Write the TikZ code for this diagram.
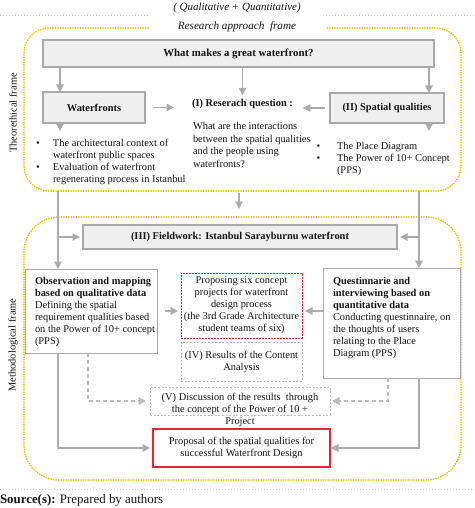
\documentclass[tikz,border=0pt]{standalone}
\usepackage{fontspec}
\setmainfont{Liberation Serif}
\usetikzlibrary{arrows.meta,calc}
\definecolor{ylw}{HTML}{F4C20D}
\definecolor{bgray}{HTML}{A9A9A9}
\definecolor{bfill}{HTML}{EFEFEF}
\definecolor{agray}{HTML}{ABABAB}
\definecolor{dgray}{HTML}{BBBBBB}
\definecolor{lgray}{HTML}{CFCFCF}
\definecolor{rd}{HTML}{E0282E}
\definecolor{txt}{HTML}{141414}
\newcommand{\bodyf}{\fontsize{10.4}{12}\selectfont}
\begin{document}
\begin{tikzpicture}[x=1pt,y=-1pt,
  every node/.style={font=\bodyf, inner sep=0pt, outer sep=0pt, text=txt},
  gbox/.style={draw=bgray, fill=bfill, line width=1.2pt},
  wbox/.style={draw=bgray, fill=white, line width=1pt},
  rdash/.style={draw=rd, line width=1pt, dash pattern=on 1.6pt off 1.4pt},
  rsolid/.style={draw=rd, line width=1.5pt},
  gdot/.style={draw=dgray, line width=0.9pt, dash pattern=on 2pt off 1.6pt},
  arr/.style={draw=agray, line width=1.3pt, -{Triangle[length=7.5pt,width=7.5pt]}},
  darr/.style={draw=dgray, line width=1.2pt, dash pattern=on 4pt off 3pt, -{Triangle[length=7.5pt,width=7.5pt]}},
  ydot/.style={draw=ylw, line width=2pt, line cap=round, dash pattern=on 0pt off 2.5pt},
  gline/.style={draw=lgray, line width=0.8pt, dash pattern=on 1pt off 2pt}
]
\useasboundingbox (0,0) rectangle (474,508);

% top labels
\node[font=\fontsize{11}{13}\selectfont\itshape] (qq) at (237,8) {( Qualitative + Quantitative)};
\draw[gline] (0,15) -- (150,15);
\draw[gline] (323,15) -- (474,15);
\node[font=\fontsize{11.2}{13}\selectfont\itshape] (raf) at (237,27) {Research approach\ \ frame};

% frames
\draw[ydot, rounded corners=25] (148,28) -- (24,28) -- (24,191) -- (461,191) -- (461,28) -- (325,28);
\draw[ydot, rounded corners=35] (24,217) rectangle (461,480);
\node[rotate=90] (thf) at (13,113) {Theorethical frame};
\node[rotate=90] (mef) at (13,345) {Methodological frame};

% theoretical part
\node[gbox, minimum width=391, minimum height=27, font=\fontsize{10.8}{13}\selectfont\bfseries] (wq) at (238.5,53.5) {What makes a great waterfront?};
\node[gbox, minimum width=102, minimum height=31, font=\bodyf\bfseries] (wf) at (94,107.5) {Waterfronts};
\node[gbox, minimum width=114, minimum height=30, font=\bodyf\bfseries] (sq) at (387,108) {(II) Spatial qualities};
\node[font=\bodyf\bfseries, inner sep=4pt] (rq) at (242.5,104) {(I) Reserach question :};
\node[anchor=north west, align=left, font=\fontsize{10.4}{12.6}\selectfont] (rqt) at (193,122.5) {What are the interactions\\between the spatial qualities\\and the people using\\waterfronts?};
\node[anchor=north west, align=left] (lb) at (36,139) {\makebox[17pt][l]{\textbullet}The architectural context of\\\hspace*{17pt}waterfront public spaces\\\makebox[17pt][l]{\textbullet}Evaluation of waterfront\\\hspace*{17pt}regenerating process in Istanbul};
\node[anchor=north west, align=left] (rb) at (316.5,142) {\makebox[20.5pt][l]{\textbullet}The Place Diagram\\\makebox[20.5pt][l]{\textbullet}The Power of 10+ Concept\\\hspace*{20.5pt}(PPS)};

\coordinate (wfd) at (60,131);
\coordinate (sqd) at (429,131);
\draw[arr] ([xshift=17]wq.south west) -- ([xshift=17]wf.north west);
\draw[arr] (rq.north |- wq.south) -- (rq.north);
\draw[arr] ([xshift=-5]wq.south east) -- ([xshift=-15]sq.north east);
\draw[arr, shorten <=8pt, shorten >=14pt] (wf.east) -- (wf.east -| rq.west);
\draw[arr, shorten <=5pt, shorten >=6pt] (sq.west) -- (sq.west -| rq.east);
\draw[arr] ([xshift=17]wf.south west) -- (wfd);
\draw[arr] ([xshift=-15]sq.south east) -- (sqd);

% methodological part
\node[gbox, minimum width=314, minimum height=24, font=\bodyf\bfseries] (fw) at (240,237) {(III) Fieldwork: Istanbul Sarayburnu waterfront};
\node[wbox, minimum width=132, minimum height=84] (obs) at (91,311) {};
\node[anchor=north west, align=left] (obst) at (35,277.5) {\textbf{Observation and mapping}\\\textbf{based on qualitative data}\\Defining the spatial\\requirement qualities based\\on the Power of 10+ concept\\(PPS)};
\node[wbox, minimum width=137, minimum height=110] (qst) at (391.5,323) {};
\node[anchor=north west, align=left] (qstt) at (333,277.5) {\textbf{Questinnarie and}\\\textbf{interviewing based on}\\\textbf{quantitative data}\\Conducting questinnaire, on\\the thoughts of users\\relating to the Place\\Diagram (PPS)};
\node[rdash, minimum width=121, minimum height=65, align=center] (cp) at (241.5,305.5) {Proposing six concept\\projects for waterfront\\design process\\(the 3rd Grade Architecture\\student teams of six)};
\node[gdot, minimum width=121, minimum height=39, align=center] (iv) at (241.5,361.5) {(IV) Results of the Content\\Analysis};
\node[gdot, minimum width=180, minimum height=28] (vb) at (240,401) {};
\node[align=center] (vt) at (240,410) {(V) Discussion of the results\ \ through\\the concept of the Power of 10 +\\Project};
\node[rsolid, minimum width=177, minimum height=38, align=center] (pr) at (241.5,448) {Proposal of the spatial qualities for\\successful Waterfront Design};

\coordinate (tl) at (58,191);
\coordinate (tr) at (419,191);
\coordinate (tm) at (239,193);
\draw[arr] (tl) -- (tl |- obs.north);
\draw[arr, shorten >=3pt] (tl |- fw.west) -- (fw.west);
\draw[arr] (tr) -- (tr |- qst.north);
\draw[arr, shorten >=3pt] (tr |- fw.east) -- (fw.east);
\draw[arr] (tm) -- ([yshift=16]fw.north -| tm);
\draw[arr, shorten <=8pt, shorten >=3pt] (obs.east) -- (obs.east -| cp.west);
\draw[arr, shorten >=3pt] (qst.west |- obs.east) -- (cp.east |- obs.east);
\draw[darr, shorten >=4pt] ([xshift=63]obs.south west) |- (vb.west);
\draw[darr, shorten >=2pt] ([xshift=65]qst.south west) |- (vb.east);
\draw[arr, shorten >=3pt] ([xshift=33]obs.south west) |- (pr.west);
\draw[arr, shorten >=1pt] ([xshift=96]qst.south west) |- (pr.east);

% footer
\draw[gline] (0,489) -- (474,489);
\node[anchor=west, font=\fontsize{12.9}{15}\selectfont] (src) at (0,500) {\textbf{Source(s):} Prepared by authors};
\end{tikzpicture}
\end{document}
